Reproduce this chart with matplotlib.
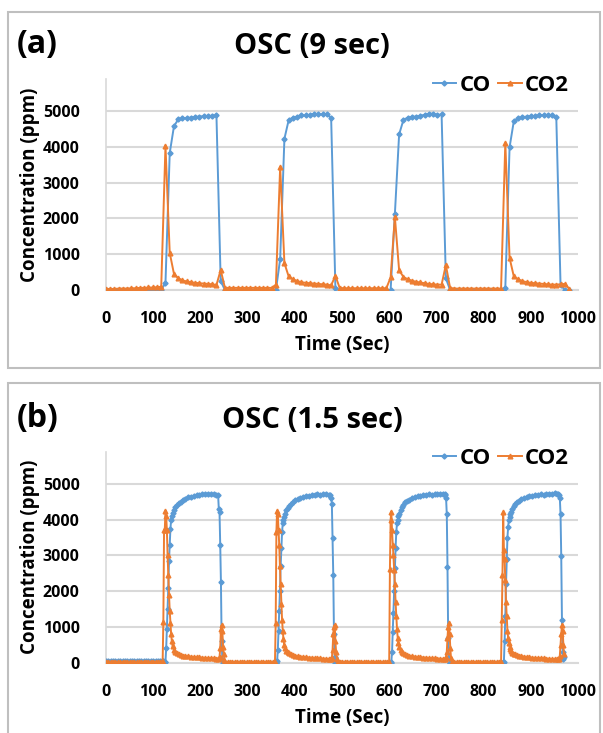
import numpy as np
import matplotlib.pyplot as plt
from matplotlib.patches import Rectangle
from matplotlib.lines import Line2D

plt.rcParams['font.family'] = ['Open Sans', 'DejaVu Sans']
plt.rcParams['font.weight'] = 'bold'

# ---------------- panel (a): 9 s sampling ----------------
ta = [0, 9, 18, 27, 36, 45, 54, 63, 72, 81, 90, 99, 108, 117, 126, 135, 144, 153,
      162, 171, 180, 189, 198, 207, 216, 225, 234, 243, 252, 261, 270, 279, 288,
      297, 306, 315, 324, 333, 342, 351, 360, 369, 378, 387, 396, 405, 414, 423,
      432, 441, 450, 459, 468, 477, 486, 495, 504, 513, 522, 531, 540, 549, 558,
      567, 576, 585, 594, 603, 612, 621, 630, 639, 648, 657, 666, 675, 684, 693,
      702, 711, 720, 729, 738, 747, 756, 765, 774, 783, 792, 801, 810, 819, 828,
      837, 846, 855, 864, 873, 882, 891, 900, 909, 918, 927, 936, 945, 954, 963,
      972, 981]
co_a = [0, 0, 0, 0, 0, 0, 0, 0, 0, 0, 0, 0, 0, 0,
        200, 3830, 4580, 4770,
        4800, 4810, 4820, 4840, 4850, 4860, 4870, 4870, 4880,
        250,
        0, 0, 0, 0, 0, 0, 0, 0, 0, 0, 0, 0, 0,
        870, 4230, 4750,
        4820, 4850, 4880, 4880, 4900, 4930, 4920, 4910, 4920, 4810,
        60,
        0, 0, 0, 0, 0, 0, 0, 0, 0, 0, 0, 0, 0,
        2120, 4350, 4750,
        4820, 4840, 4850, 4870, 4900, 4930, 4930, 4890, 4910,
        330,
        0, 0, 0, 0, 0, 0, 0, 0, 0, 0, 0, 0, 0,
        60, 3990, 4720,
        4800, 4830, 4850, 4860, 4870, 4880, 4890, 4900, 4890, 4830,
        150, 0, 0]
co2_a = [30, 30, 30, 40, 40, 40, 50, 50, 60, 60, 70, 70, 80, 90,
         4030, 1040, 450, 330,
         270, 240, 220, 200, 190, 180, 170, 160, 140,
         560, 60,
         60, 60, 60, 60, 60, 60, 60, 60, 60, 60, 60,
         150, 3440, 750, 380,
         300, 250, 220, 200, 190, 180, 170, 160, 150, 130,
         400, 60,
         50, 50, 50, 50, 50, 50, 50, 50, 50, 50, 50,
         350, 2050, 550, 370,
         300, 260, 230, 210, 190, 170, 160, 150, 150,
         700, 60,
         40, 40, 40, 40, 40, 40, 40, 40, 40, 40, 40, 40,
         4110, 900, 380,
         300, 250, 220, 200, 190, 180, 170, 160, 150, 150,
         160, 170, 40]

# ---------------- panel (b): 1.5 s sampling ----------------
tb0 = [0, 5, 10, 15, 20, 25, 30, 35, 40, 45, 50, 55, 60, 65, 70, 75, 80, 85, 90,
       95, 100, 105, 110, 115, 118]
cob0 = [50, 50, 50, 50, 50, 50, 50, 50, 50, 50, 50, 50, 50, 50, 50, 50, 50, 50,
        50, 50, 50, 50, 50, 50, 50]
co2b0 = [20, 20, 20, 20, 20, 20, 20, 20, 20, 20, 20, 20, 20, 20, 20, 20, 20, 20,
         20, 20, 20, 20, 20, 20, 20]

tb1 = [120, 121.5, 123, 124.5, 126, 127.5, 129, 130.5, 132, 133.5, 135, 136.5,
       138, 139.5, 141, 144, 147, 150, 154, 158, 163, 168, 174, 180, 186, 192,
       198, 204, 210, 216, 222, 228, 234, 237.5, 239, 240.5, 242, 243.5, 245,
       246.5, 248, 249.5, 251, 253]
cob1 = [40, 40, 30, 30, 30, 400, 950, 1500, 2100, 2850, 3300, 3750,
        4000, 4100, 4180, 4270, 4340, 4400, 4460, 4500, 4550, 4580, 4620, 4640,
        4660, 4690, 4700, 4720, 4710, 4730, 4710, 4720, 4700, 4690, 4300, 4200,
        3300, 2250, 600, 80, 0, 0, 0, 0]
co2b1 = [20, 1150, 3700, 3700, 4250, 4100, 3700, 3000, 2450, 1900, 1450, 1100,
         800, 600, 470, 360, 300, 270, 240, 220, 200, 190, 180, 170, 160, 155,
         150, 140, 135, 130, 125, 120, 115, 110, 120, 150, 400, 950, 1050, 900,
         450, 250, 80, 20]

tb1b = [258, 263, 268, 273, 278, 283, 288, 293, 298, 303, 308, 313, 318, 323,
        328, 333, 338, 343, 348, 353]
cob1b = [0, 0, 0, 0, 0, 0, 0, 0, 0, 0, 0, 0, 0, 0, 0, 0, 0, 0, 0, 0]
co2b1b = [15, 15, 15, 15, 15, 15, 15, 15, 15, 15, 15, 15, 15, 15, 15, 15, 15, 15,
          15, 15]

tb2 = [358, 359.5, 361, 362.5, 364, 365.5, 367, 368.5, 370, 371.5, 373, 374.5,
       376, 377.5, 379, 382, 385, 388, 392, 396, 401, 406, 412, 418, 424, 430,
       436, 442, 448, 454, 460, 466, 472, 475.5, 477, 478.5, 480, 481.5, 483,
       484.5, 486, 487.5, 489, 491]
cob2 = [0, 0, 0, 40, 350, 900, 1450, 2000, 2700, 3200, 3650, 3900,
        4000, 4080, 4150, 4260, 4330, 4390, 4450, 4500, 4540, 4580, 4610, 4640,
        4650, 4670, 4690, 4700, 4710, 4700, 4720, 4710, 4700, 4690, 4600, 4450,
        3500, 2450, 800, 150, 0, 0, 0, 0]
co2b2 = [15, 1100, 3650, 4250, 4150, 3700, 3300, 2700, 2200, 1650, 1200, 900,
         650, 500, 420, 340, 290, 260, 230, 210, 190, 180, 170, 160, 150, 145,
         140, 130, 125, 120, 115, 110, 105, 100, 110, 140, 350, 800, 1000, 1050,
         600, 300, 100, 20]

tb2b = [496, 501, 506, 511, 516, 521, 526, 531, 536, 541, 546, 551, 556, 561,
        566, 571, 576, 581, 586, 591, 596]
cob2b = [0, 0, 0, 0, 0, 0, 0, 0, 0, 0, 0, 0, 0, 0, 0, 0, 0, 0, 0, 0, 0]
co2b2b = [15, 15, 15, 15, 15, 15, 15, 15, 15, 15, 15, 15, 15, 15, 15, 15, 15, 15,
          15, 15, 15]

tb3 = [600, 601.5, 603, 604.5, 606, 607.5, 609, 610.5, 612, 613.5, 615, 616.5,
       618, 619.5, 621, 624, 627, 630, 634, 638, 643, 648, 654, 660, 666, 672,
       678, 684, 690, 696, 702, 708, 714, 717.5, 719, 720.5, 722, 723.5, 725,
       726.5, 728, 729.5, 731, 733]
cob3 = [0, 0, 0, 30, 300, 850, 1400, 2000, 2650, 3200, 3650, 3900,
        4000, 4100, 4170, 4280, 4350, 4420, 4480, 4520, 4560, 4600, 4630, 4650,
        4660, 4680, 4700, 4710, 4700, 4720, 4730, 4720, 4730, 4720, 4700, 4600,
        4150, 2670, 700, 120, 0, 0, 0, 0]
co2b3 = [15, 2620, 4000, 4220, 3700, 3300, 3000, 2600, 2200, 1700, 1300, 950,
         700, 550, 450, 360, 300, 260, 230, 210, 190, 180, 170, 160, 150, 145,
         140, 130, 125, 120, 115, 110, 105, 100, 110, 150, 300, 700, 1000, 1100,
         800, 400, 120, 20]

tb3b = [738, 743, 748, 753, 758, 763, 768, 773, 778, 783, 788, 793, 798, 803,
        808, 813, 818, 823, 828, 833]
cob3b = [0, 0, 0, 0, 0, 0, 0, 0, 0, 0, 0, 0, 0, 0, 0, 0, 0, 0, 0, 0]
co2b3b = [15, 15, 15, 15, 15, 15, 15, 15, 15, 15, 15, 15, 15, 15, 15, 15, 15, 15,
          15, 15]

tb4 = [837, 838.5, 840, 841.5, 843, 844.5, 846, 847.5, 849, 850.5, 852, 853.5,
       855, 856.5, 858, 861, 864, 867, 871, 875, 880, 885, 891, 897, 903, 909,
       915, 921, 927, 933, 939, 945, 951, 955, 958, 960, 961.5, 963, 964.5, 966,
       967.5, 969, 970]
cob4 = [0, 0, 0, 0, 30, 600, 1300, 2200, 2900, 3500, 3800, 4000,
        4080, 4150, 4200, 4300, 4370, 4430, 4490, 4530, 4570, 4600, 4630, 4650,
        4660, 4680, 4700, 4710, 4700, 4720, 4730, 4720, 4740, 4730, 4720, 4700,
        4600, 4150, 2970, 1200, 300, 100, 150]
co2b4 = [15, 1200, 2450, 4200, 3150, 2900, 2300, 1700, 1300, 900, 700, 550,
         450, 380, 330, 280, 250, 230, 210, 190, 180, 170, 160, 150, 140, 135,
         130, 125, 120, 115, 110, 105, 100, 95, 100, 110, 200, 500, 800, 1050,
         900, 500, 250]

tb = tb0 + tb1 + tb1b + tb2 + tb2b + tb3 + tb3b + tb4
co_b = cob0 + cob1 + cob1b + cob2 + cob2b + cob3 + cob3b + cob4
co2_b = co2b0 + co2b1 + co2b1b + co2b2 + co2b2b + co2b3 + co2b3b + co2b4

xticks = [0, 100, 200, 300, 400, 500, 600, 700, 800, 900, 1000]
yticks = [0, 1000, 2000, 3000, 4000, 5000]

blue = '#5B9BD5'
orange = '#ED7D31'
grid = '#D9D9D9'

W, H = 603, 733
fig = plt.figure(figsize=(W / 100, H / 100), dpi=100)

# panel frames
fig.patches.append(Rectangle((8 / W, 1 - 368 / H), 592 / W, 356 / H, transform=fig.transFigure,
                             fill=False, edgecolor='#BFBFBF', linewidth=1.5))
fig.patches.append(Rectangle((8 / W, -0.01), 592 / W, 1 - 383 / H + 0.01, transform=fig.transFigure,
                             fill=False, edgecolor='#BFBFBF', linewidth=1.5))


def panel(rect, t, co, co2, label, title, label_y, title_y):
    ax = fig.add_axes(rect)
    ax.plot(t, co, color=blue, lw=1.4, marker='D', ms=2.6, mec=blue, label='CO', zorder=3)
    ax.plot(t, co2, color=orange, lw=1.4, marker='^', ms=3.4, mec=orange, label='CO2', zorder=4)
    ax.set_xlim(0, 1000)
    ax.set_ylim(0, 5900)
    ax.set_xticks(xticks)
    ax.set_yticks(yticks)
    ax.yaxis.grid(True, color=grid, lw=1.5)
    ax.set_axisbelow(True)
    for s in ['top', 'right']:
        ax.spines[s].set_visible(False)
    ax.spines['left'].set_color(grid)
    ax.spines['bottom'].set_color(grid)
    ax.spines['left'].set_linewidth(1.2)
    ax.spines['bottom'].set_linewidth(1.5)
    ax.tick_params(length=0, labelsize=11.5)
    ax.tick_params(axis='y', pad=19)
    ax.tick_params(axis='x', pad=15)
    for lab in ax.get_xticklabels() + ax.get_yticklabels():
        lab.set_fontweight('bold')
    ax.set_xlabel('Time (Sec)', fontsize=13.5, fontweight='bold', labelpad=6)
    ax.set_ylabel('Concentration (ppm)', fontsize=13.5, fontweight='bold', labelpad=2)
    handles = [Line2D([], [], color=blue, lw=1.4, marker='D', ms=2.6),
               Line2D([], [], color=orange, lw=1.4, marker='^', ms=3.4)]
    ax.legend(handles, ['CO', 'CO2'], loc='upper right', bbox_to_anchor=(1.0, 1.06), ncol=2,
              frameon=False, handlelength=1.05, handletextpad=0.15, borderaxespad=0,
              columnspacing=0.35, prop={'weight': 'bold', 'size': 16})
    fig.text(17 / W, 1 - label_y / H, label, fontsize=23, fontweight='bold', va='center', ha='left')
    fig.text(312 / W, 1 - title_y / H, title, fontsize=21, fontweight='bold', va='center', ha='center')
    return ax


panel([106 / W, 1 - 290 / H, 472 / W, 211 / H], ta, co_a, co2_a, '(a)', 'OSC (9 sec)', 45, 47)
panel([106 / W, 1 - 662.7 / H, 472 / W, 211 / H], tb, co_b, co2_b, '(b)', 'OSC (1.5 sec)', 418, 421)

fig.savefig('out.png', dpi=100)
